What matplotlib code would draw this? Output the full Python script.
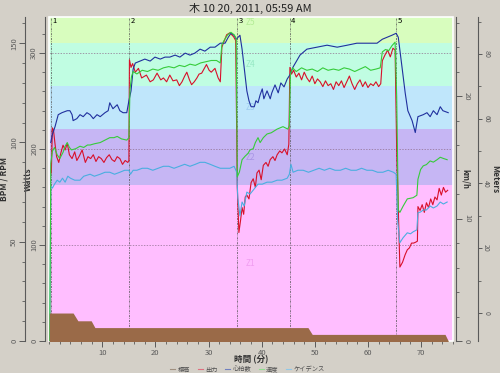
import matplotlib
matplotlib.use("Agg")
import matplotlib.pyplot as plt
from matplotlib.ticker import MultipleLocator
from matplotlib.lines import Line2D
from matplotlib.patches import Rectangle

plt.rcParams['font.family'] = ['Noto Sans CJK JP', 'DejaVu Sans']

# ---- data ----
title = "木 10 20, 2011, 05:59 AM"

# power zones (W) and labels
zone_edges = [0, 162, 221, 266, 310, 354]
zone_names = ["Z1", "Z2", "Z3", "Z4", "Z5"]
zone_colors = ["#ffbeff", "#c6b6f4", "#bfe6fb", "#c0fde2", "#d8fdbe"]
zone_text = ["#f09cf0", "#a996e6", "#9ccaf0", "#96e8c4", "#b4ec96"]

# intervals (min)
lap_t = [0.3, 15.1, 35.35, 45.25, 65.3]
lap_names = ["1", "2", "3", "4", "5"]

# heart rate (bpm)
hr_t = [0.3, 0.6, 1.1, 1.7, 2.4, 3.4, 3.9, 4.3, 4.5, 5.2, 5.8, 6.4, 7.1, 7.7, 8.3, 9.0, 9.6,
        10.5, 11.1, 11.4, 12.0, 12.8, 13.3, 13.9, 14.6, 15.0,
        15.4, 15.8, 16.2, 17.1, 18.0, 19.0, 19.9, 20.9, 21.8, 22.7, 23.7, 24.6, 25.6, 26.5,
        27.4, 28.4, 29.3, 30.3, 31.2, 32.2, 33.1, 33.7, 34.2, 34.8, 35.2,
        35.9, 36.3, 36.9, 37.2, 37.6, 38.0, 38.6, 38.9, 39.3, 39.7, 40.1, 40.4, 41.0, 41.6,
        41.9, 42.5, 43.1, 43.6, 44.2, 44.8, 45.3,
        45.9, 47.2, 48.5, 50.4, 52.3, 54.2, 56.1, 57.9, 59.8, 61.7, 62.7, 63.6, 64.5, 65.3, 65.7,
        66.4, 67.0, 67.5, 68.3, 68.9, 69.4, 70.4, 71.1, 71.7, 72.3, 73.0, 73.6, 74.1, 75.1]
hr = [100, 104, 108, 114, 115, 116, 116, 114, 111, 112, 114, 113, 115, 114, 112, 114, 113,
      115, 116, 120, 117, 119, 116, 115, 115, 121,
      126, 137, 140, 141, 142, 141, 143, 142, 143, 143, 144, 143, 145, 144,
      145, 147, 146, 148, 148, 150, 150, 153, 155, 154, 152,
      154, 147, 133, 126, 121, 118, 118, 121, 120, 124, 127, 122, 126, 122,
      125, 129, 125, 130, 128, 132, 134,
      138, 144, 147, 148, 149, 148, 149, 150, 150, 150, 152, 153, 154, 155, 153,
      138, 125, 116, 111, 105, 113, 114, 115, 113, 116, 114, 118, 116, 115]

# power (W)
pw_t = [0.4, 0.6, 0.8, 1.1, 1.4, 1.8, 2.2, 2.6, 3.0, 3.4, 3.8, 4.3, 4.8, 5.2, 5.7, 6.2, 6.8,
        7.3, 7.8, 8.3, 8.8, 9.3, 9.8, 10.3, 10.8, 11.3, 11.8, 12.3, 12.8, 13.3, 13.8, 14.3,
        14.8, 15.0,
        15.1, 15.4, 15.7, 16.2, 16.8, 17.4, 18.3, 19.0, 19.6, 20.3, 21.0, 21.5, 22.1, 22.7,
        23.3, 24.0, 24.5, 25.0, 25.5, 25.9, 26.4, 26.8, 27.3, 27.8, 28.2, 28.7, 29.2, 29.6,
        30.1, 30.5, 31.2, 31.8, 32.2, 32.5, 32.9, 33.4, 34.0, 34.7, 35.1, 35.4,
        35.7, 36.0, 36.3, 36.6, 36.9, 37.2, 37.6, 38.0, 38.4, 38.8, 39.1, 39.5, 39.9, 40.3,
        40.8, 41.2, 41.6, 42.1, 42.5, 42.9, 43.4, 43.8, 44.3, 44.8, 45.1,
        45.3, 45.6, 46.0, 46.5, 47.0, 47.5, 48.0, 48.5, 49.0, 49.5, 50.0, 50.5, 51.0, 51.5,
        52.0, 52.5, 53.0, 53.5, 54.0, 54.5, 55.0, 55.5, 56.0, 56.5, 57.0, 57.5, 58.0, 58.5,
        59.0, 59.5, 60.0, 60.5, 61.0, 61.5, 62.0, 62.4, 62.7, 63.2, 63.7, 64.2, 64.7, 65.1,
        65.4,
        66.0, 66.5, 67.0, 67.4, 67.8, 68.2, 68.6, 69.0, 69.3, 69.4, 69.8, 70.2, 70.6, 71.0,
        71.4, 71.8, 72.2, 72.6, 73.0, 73.4, 73.8, 74.2, 74.6, 75.0]
pw = [175, 222, 220, 205, 192, 186, 196, 204, 199, 206, 194, 190, 197, 188, 193, 199, 186,
      192, 190, 194, 187, 192, 190, 186, 191, 194, 189, 187, 192, 190, 184, 188,
      186, 188,
      293, 285, 289, 280, 284, 274, 277, 270, 272, 279, 272, 274, 270, 277,
      271, 272, 266, 270, 276, 280, 272, 267, 270, 274, 278, 279, 284, 288,
      282, 280, 284, 274, 270, 306, 312, 319, 321, 317, 313, 160,
      113, 125, 139, 132, 150, 152, 148, 165, 169, 160, 175, 178, 168, 183,
      186, 182, 189, 192, 188, 194, 198, 196, 200, 194, 205,
      285, 278, 282, 275, 279, 272, 280, 274, 270, 276, 268, 273, 270, 265,
      271, 266, 268, 262, 270, 266, 271, 264, 270, 276, 268, 262, 268, 272,
      265, 270, 264, 268, 266, 270, 265, 268, 292, 298, 303, 296, 305, 303,
      200,
      77, 82, 90, 95, 97, 102, 102, 103, 104, 140, 136, 142, 134, 144,
      139, 148, 142, 150, 147, 159, 152, 160, 155, 157]

# speed (km/h)
sp_t = [0.1, 0.3, 0.6, 1.0, 1.5, 2.0, 2.6, 3.0, 3.4, 3.8, 4.2, 5.0, 5.8, 6.5, 7.2, 7.7, 8.5,
        9.6, 10.5, 11.4, 12.2, 12.8, 13.6, 14.6, 15.0,
        15.2, 15.5, 15.8, 16.5, 17.5, 18.5, 19.5, 20.5, 21.5, 22.5, 23.5, 24.5, 25.5, 26.5,
        27.5, 28.5, 29.5, 30.5, 31.5, 32.2, 32.5, 33.0, 33.6, 34.2, 34.8, 35.2,
        35.4, 35.8, 36.3, 36.9, 37.4, 37.8, 38.4, 38.8, 39.3, 39.7, 40.3, 41.0, 41.8, 42.9,
        44.0, 44.9, 45.2,
        45.4, 45.8, 46.5, 47.5, 48.5, 49.5, 50.5, 51.5, 52.5, 53.5, 54.5, 55.5, 56.5, 57.5,
        58.5, 59.5, 60.5, 61.5, 62.3, 62.7, 63.3, 63.9, 64.5, 65.1, 65.4,
        65.7, 66.0, 66.6, 67.4, 68.5, 69.2, 69.4, 69.9, 70.4, 71.0, 71.7, 72.3, 73.0, 73.6,
        74.2, 74.9]
sp = [0, 14.5, 15.5, 15.8, 15.2, 14.9, 15.4, 15.9, 16.2, 15.8, 15.6, 15.7, 15.9, 15.8, 16.0,
      16.0, 16.1, 16.2, 16.4, 16.6, 16.6, 16.7, 16.5, 16.4, 16.6,
      20.5, 21.6, 22.0, 21.8, 22.1, 22.0, 22.2, 22.1, 22.3, 22.4, 22.3, 22.5, 22.4, 22.6,
      22.5, 22.7, 22.8, 22.9, 22.9, 22.7, 24.2, 24.6, 25.0, 25.2, 25.0, 24.7,
      13.4, 13.8, 14.8, 15.1, 15.3, 15.6, 15.7, 16.2, 16.6, 16.2, 16.6, 16.9, 17.0, 17.3,
      17.5, 17.3, 17.6,
      21.8, 22.3, 22.0, 22.3, 22.1, 22.2, 22.0, 22.3, 22.1, 22.2, 22.1, 22.3, 22.2, 22.0,
      22.2, 22.4, 22.1, 22.2, 22.3, 23.6, 23.8, 23.7, 24.1, 24.4, 20.0,
      10.7, 10.5, 11.0, 11.6, 11.7, 11.9, 13.2, 14.0, 14.3, 14.4, 14.7, 14.6, 14.8, 15.0,
      14.9, 14.8]

# cadence (rpm)
cd_t = [0.1, 0.3, 0.6, 1.0, 1.5, 2.0, 2.5, 3.0, 3.5, 4.0, 4.8, 5.8, 6.5, 7.7, 8.5, 9.6,
        10.5, 11.4, 12.3, 13.3, 14.2, 15.0,
        15.3, 15.8, 16.5, 17.5, 18.5, 19.5, 20.5, 21.5, 22.5, 23.5, 24.5, 25.5, 26.5, 27.5,
        28.4, 29.3, 30.3, 31.2, 32.2, 33.1, 34.0, 34.8, 35.3,
        35.5, 35.9, 36.3, 36.7, 37.2, 37.8, 38.7, 39.3, 40.1, 41.0, 41.9, 42.9, 43.8, 44.8,
        45.2,
        45.5, 45.9, 46.8, 47.8, 48.8, 49.8, 50.8, 51.8, 52.8, 53.8, 54.8, 55.8, 56.8, 57.8,
        58.8, 59.8, 60.8, 61.8, 62.8, 63.8, 64.8, 65.3,
        65.6, 66.0, 66.6, 67.4, 68.0, 68.5, 69.2, 69.4, 69.9, 70.4, 71.0, 71.7, 72.3, 73.0,
        73.6, 74.2, 74.9]
cd = [0, 78, 77, 79, 81, 80, 82, 80, 83, 82, 81, 81, 83, 84, 83, 84,
      85, 85, 84, 85, 86, 86,
      84, 86, 86, 87, 87, 86, 87, 88, 88, 87, 88, 89, 88, 89,
      90, 90, 89, 88, 87, 87, 87, 88, 85,
      72, 63, 70, 68, 75, 74, 77, 79, 79, 80, 80, 81, 81, 82,
      84,
      89, 85, 86, 86, 85, 86, 87, 86, 87, 86, 86, 87, 86, 86,
      87, 86, 86, 85, 85, 86, 85, 84,
      60, 49.5, 52, 54.5, 54, 55, 56, 64.6, 65, 66, 66, 68, 67, 68,
      70, 69, 70]

# altitude (m)
alt_t = [0.0, 4.5, 5.4, 7.9, 8.6, 48.7, 49.5, 74.5, 75.1]
alt_m = [0, 0, -2.4, -2.4, -4.5, -4.5, -6.6, -6.6, -8.6]

# ---- figure ----
bg = "#d4d0c8"
tick_col = "#5a5a5a"
fig = plt.figure(figsize=(5, 3.73), dpi=100, facecolor=bg)
ax = fig.add_axes([49.2 / 500, 32 / 373, 403.8 / 500, 324 / 373])
ax.set_xlim(0, 76.0)
ax.set_ylim(0, 337.5)

for i in range(5):
    ax.axhspan(zone_edges[i], zone_edges[i + 1], color=zone_colors[i], lw=0, zorder=0)
    ax.text(37.8, (zone_edges[i] + zone_edges[i + 1]) / 2, zone_names[i],
            color=zone_text[i], fontsize=6, ha='center', va='center', zorder=1)

for yv in [100, 200, 300]:
    ax.axhline(yv, color="#907090", lw=0.5, ls=(0, (2, 2)), zorder=1)
for t, name in zip(lap_t, lap_names):
    ax.axvline(t, color="#505050", lw=0.5, ls=(0, (3, 1.5, 1, 1.5)), zorder=2)
    ax.text(t + 0.3, 333, name, fontsize=5.5, ha='left', va='center', zorder=3)

ax.plot(pw_t, pw, color="#d8102a", lw=0.8, zorder=4)

# BPM / RPM axis
ax2 = ax.twinx()
ax2.set_ylim(0, 163.2)
ax2.plot(cd_t, cd, color="#4aaee0", lw=0.8)
ax2.plot(hr_t, hr, color="#20309e", lw=0.8)

# km/h axis
ax3 = ax.twinx()
ax3.set_ylim(0, 26.45)
ax3.plot(sp_t, sp, color="#36cc3a", lw=0.8)

# Meters axis
ax4 = ax.twinx()
ax4.set_ylim(-8.64, 91.4)
ax4.fill_between(alt_t, alt_m, -20, color="#9a6a48", lw=0)

# ---- axes styling ----
for a in (ax, ax2, ax3, ax4):
    for s in a.spines.values():
        s.set_visible(False)

ax.spines['left'].set_visible(True)
ax.spines['left'].set_position(('outward', 4 * 0.72))
ax2.spines['left'].set_visible(True)
ax2.spines['left'].set_position(('outward', 24 * 0.72))
ax2.yaxis.set_ticks_position('left')
ax2.yaxis.set_label_position('left')
ax3.spines['right'].set_visible(True)
ax3.spines['right'].set_position(('outward', 3 * 0.72))
ax4.spines['right'].set_visible(True)
ax4.spines['right'].set_position(('outward', 25 * 0.72))

ax.yaxis.set_major_locator(MultipleLocator(100))
ax.yaxis.set_minor_locator(MultipleLocator(20))
ax2.yaxis.set_major_locator(MultipleLocator(50))
ax2.yaxis.set_minor_locator(MultipleLocator(10))
ax3.yaxis.set_major_locator(MultipleLocator(10))
ax3.yaxis.set_minor_locator(MultipleLocator(2))
ax4.yaxis.set_major_locator(MultipleLocator(20))
ax4.yaxis.set_minor_locator(MultipleLocator(10))
ax.xaxis.set_minor_locator(MultipleLocator(2))
ax.set_xticks([10, 20, 30, 40, 50, 60, 70])
ax.set_xticklabels(["10", "20", "30", "40", "50", "60", "70"])

for a in (ax, ax2, ax3, ax4):
    a.spines['left'].set_color(tick_col)
    a.spines['right'].set_color(tick_col)
    a.tick_params(axis='y', which='major', length=4, width=0.7, color=tick_col,
                  labelsize=5.5, labelcolor=tick_col, pad=1)
    a.tick_params(axis='y', which='minor', length=2.5, width=0.6, color=tick_col)
ax.tick_params(axis='y', labelrotation=90)
ax2.tick_params(axis='y', labelrotation=90)
ax3.tick_params(axis='y', labelrotation=-90)
ax4.tick_params(axis='y', which='major', labelrotation=-90, pad=0, length=3, labelsize=5)
ax4.tick_params(axis='y', which='minor', length=2)
for lab in ax.get_yticklabels() + ax2.get_yticklabels():
    lab.set_va('center')
for lab in ax3.get_yticklabels() + ax4.get_yticklabels():
    lab.set_va('center')

ax.tick_params(axis='x', which='major', length=4, width=0.7, color=tick_col,
               labelsize=5.5, labelcolor=tick_col, pad=1.5)
ax.tick_params(axis='x', which='minor', length=2.5, width=0.6, color=tick_col)

ax.add_patch(Rectangle((0, 0), 1, 1, transform=ax.transAxes, fill=False,
                       ec="white", lw=1.2, clip_on=False, zorder=10))

# axis titles
ax2.set_ylabel("BPM / RPM", fontsize=6, fontweight='bold', color="#303030")
ax2.yaxis.set_label_coords(-0.102, 0.5)
ax.set_ylabel("Watts", fontsize=6, fontweight='bold', color="#303030")
ax.yaxis.set_label_coords(-0.04, 0.5)
ax3.set_ylabel("km/h", fontsize=5.5, fontweight='bold', color="#303030", rotation=-90)
ax3.yaxis.set_label_coords(1.042, 0.5)
ax4.set_ylabel("Meters", fontsize=6, fontweight='bold', color="#303030", rotation=-90)
ax4.yaxis.set_label_coords(1.115, 0.5)

ax.set_xlabel("時間 (分)", fontsize=6.2, fontweight='bold', color="#303030")
ax.xaxis.set_label_coords(0.5, -0.045)

fig.text(0.5, 1 - 8 / 373, title, fontsize=8, ha='center', va='center', color="#202020")

handles = [Line2D([], [], color=c, lw=0.8) for c in
           ["#a09080", "#e07080", "#7080c0", "#90e090", "#90c8e8"]]
fig.legend(handles, ["標高", "出力", "心拍数", "速度", "ケイデンス"], loc='center',
           bbox_to_anchor=(0.495, 3.5 / 373), ncol=5, frameon=False, fontsize=4.5,
           handlelength=0.8, handletextpad=0.4, columnspacing=1.2,
           labelcolor="#505050", borderpad=0, borderaxespad=0)

fig.savefig("out.png", dpi=100, facecolor=bg)
